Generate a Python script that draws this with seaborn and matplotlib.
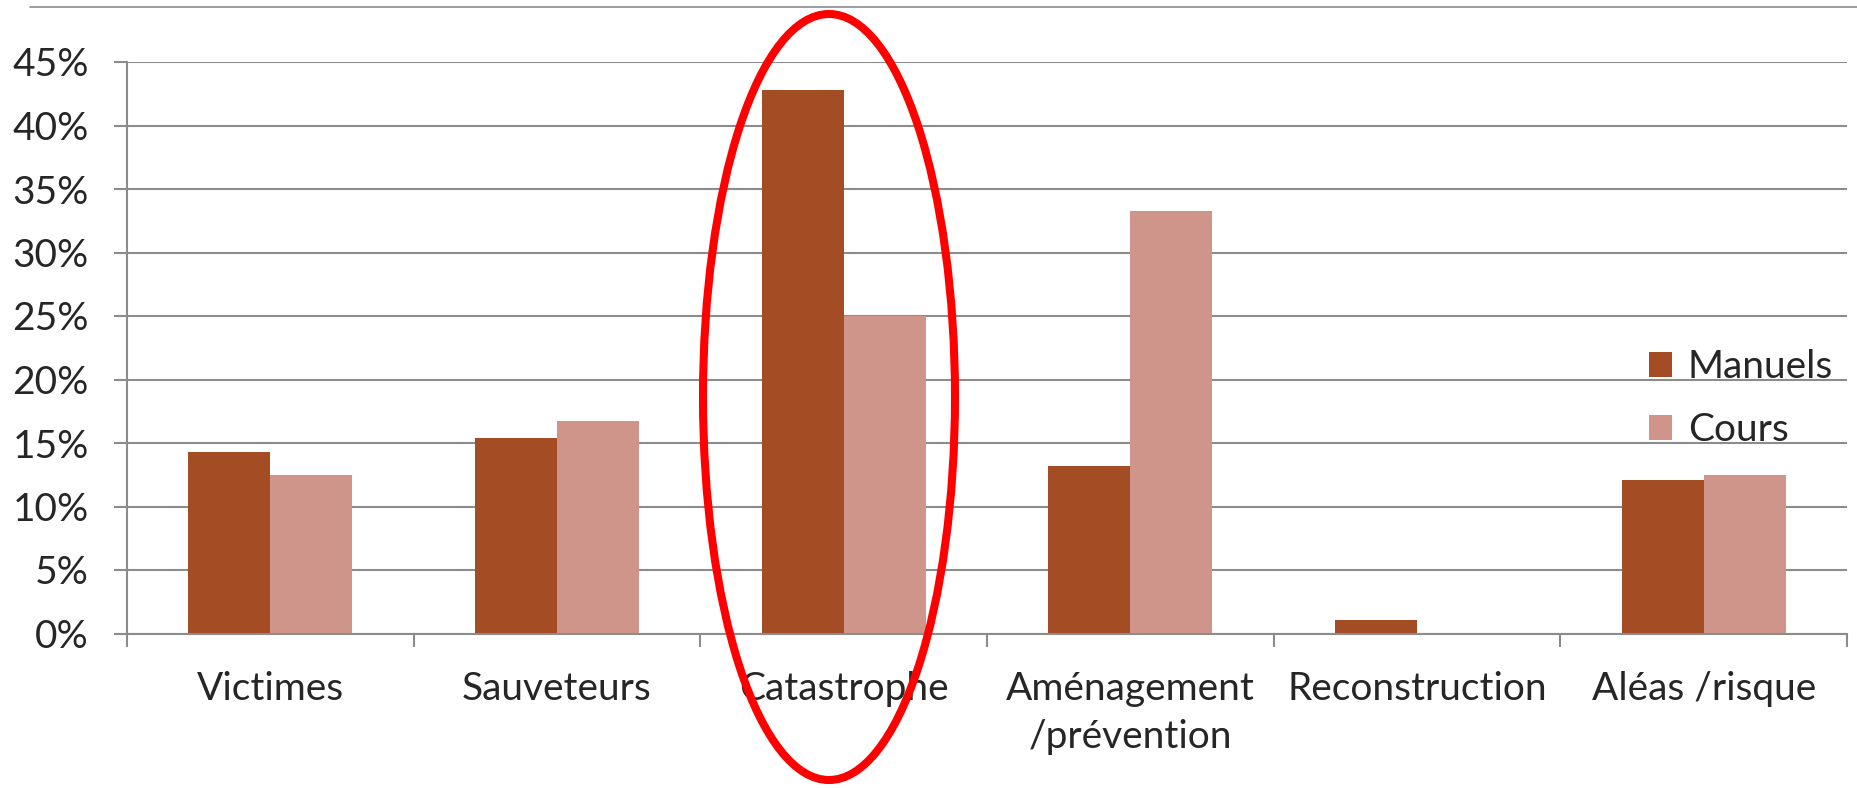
import matplotlib
matplotlib.use("Agg")
import matplotlib.pyplot as plt
import seaborn as sns
import pandas as pd
from matplotlib.patches import Ellipse
from matplotlib.lines import Line2D
from matplotlib.ticker import FuncFormatter, FixedLocator

categories = ["Victimes", "Sauveteurs", "Catastrophe", "Aménagement\n/prévention", "Reconstruction", "Aléas /risque"]
manuels = [0.143, 0.154, 0.428, 0.132, 0.011, 0.121]
cours = [0.125, 0.167, 0.250, 0.333, 0.0, 0.125]
series = ["Manuels", "Cours"]
colors = ["#A44D25", "#D0958A"]
yticks = [0, 0.05, 0.10, 0.15, 0.20, 0.25, 0.30, 0.35, 0.40, 0.45]

df = pd.DataFrame({
    "cat": categories * 2,
    "val": manuels + cours,
    "src": [series[0]] * len(categories) + [series[1]] * len(categories),
})

sns.set_style("white")
plt.rcParams["font.family"] = ["Lato", "DejaVu Sans"]

fig = plt.figure(figsize=(18.58, 7.88), dpi=100)
ax = fig.add_axes([127 / 1858, 1 - 633.5 / 788, (1847 - 127) / 1858, (633.5 - 62) / 788])

sns.barplot(data=df, x="cat", y="val", hue="src", palette=colors, width=0.572,
            saturation=1, ax=ax, legend=True, linewidth=0)

grid_c = "#8C8C8C"
fs = 28
ax.set_ylim(0, 0.45)
ax.set_xlim(-0.5, len(categories) - 0.5)
ax.set_yticks(yticks)
ax.yaxis.set_major_formatter(FuncFormatter(lambda v, p: f"{v*100:.0f}%"))
ax.grid(axis="y", color=grid_c, linewidth=1.5)
ax.set_axisbelow(True)
ax.tick_params(axis="y", length=9.5, width=1.5, color=grid_c, pad=18, labelsize=fs, direction="out", left=True)
ax.tick_params(axis="x", length=0, pad=27, labelsize=fs)
ax.xaxis.set_minor_locator(FixedLocator([i - 0.5 for i in range(len(categories) + 1)]))
ax.tick_params(axis="x", which="minor", length=9.5, width=1.5, color=grid_c, bottom=True)
ax.set_xlabel("")
ax.set_ylabel("")
for s in ["top", "right"]:
    ax.spines[s].set_visible(False)
ax.spines["left"].set_color(grid_c)
ax.spines["left"].set_linewidth(1.5)
ax.spines["bottom"].set_color(grid_c)
ax.spines["bottom"].set_linewidth(1.5)
for t in ax.get_xticklabels():
    t.set_linespacing(1.42)

leg = ax.legend(loc="upper left", bbox_to_anchor=(1614 / 1858, 1 - 314 / 788),
                bbox_transform=fig.transFigure, frameon=False, fontsize=fs,
                handlelength=0.6, handleheight=0.6, handletextpad=0.4, labelspacing=0.7)

fig.add_artist(Line2D([30 / 1858, 1.0], [1 - 7 / 788, 1 - 7 / 788], transform=fig.transFigure,
                      color=grid_c, linewidth=1.2))
fig.add_artist(Ellipse((829 / 1858, 1 - 397 / 788), 252 / 1858, 766 / 788, transform=fig.transFigure,
                       fill=False, edgecolor="#FF0000", linewidth=5.8, clip_on=False))

fig.savefig("out.png", dpi=100)
